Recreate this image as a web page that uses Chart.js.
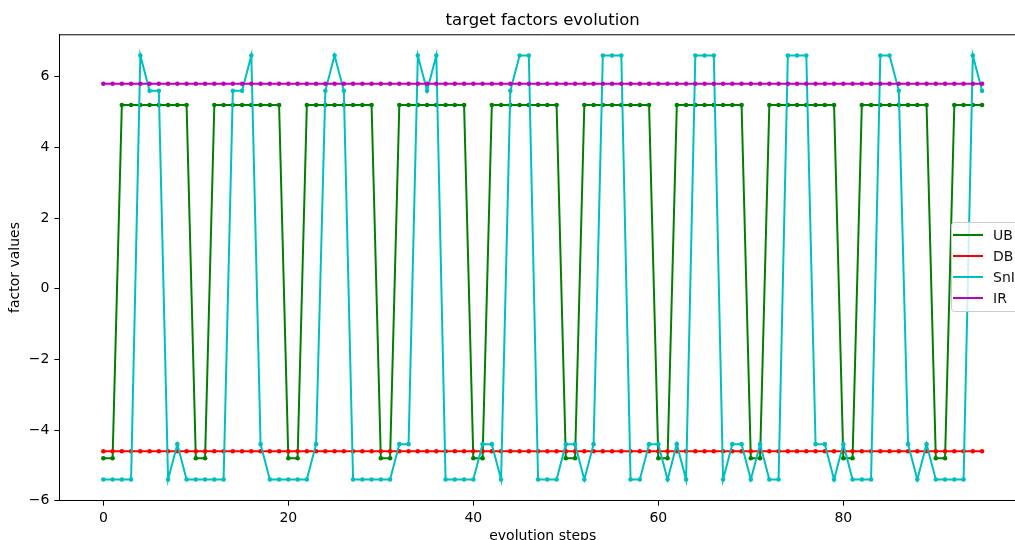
<!DOCTYPE html>
<html>
<head>
<meta charset="utf-8">
<title>target factors evolution</title>
<script src="https://cdn.jsdelivr.net/npm/chart.js@4/dist/chart.umd.min.js"></script>
<style>
    body { margin: 0; background: #fff; }
    #wrap { width: 1015px; height: 540px; overflow: hidden; position: relative; }
    #chart { position: absolute; left: 0; top: 0; }
</style>
</head>
<body>
<div id="wrap"><canvas id="chart" width="1040" height="560"></canvas></div>
<script>
// evolution steps
const steps = [
    0, 1, 2, 3, 4, 5, 6, 7, 8, 9,
    10, 11, 12, 13, 14, 15, 16, 17, 18, 19,
    20, 21, 22, 23, 24, 25, 26, 27, 28, 29,
    30, 31, 32, 33, 34, 35, 36, 37, 38, 39,
    40, 41, 42, 43, 44, 45, 46, 47, 48, 49,
    50, 51, 52, 53, 54, 55, 56, 57, 58, 59,
    60, 61, 62, 63, 64, 65, 66, 67, 68, 69,
    70, 71, 72, 73, 74, 75, 76, 77, 78, 79,
    80, 81, 82, 83, 84, 85, 86, 87, 88, 89,
    90, 91, 92, 93, 94, 95
];

const ubValues = [
    -4.8, -4.8, 5.2, 5.2, 5.2, 5.2, 5.2, 5.2, 5.2, 5.2,
    -4.8, -4.8, 5.2, 5.2, 5.2, 5.2, 5.2, 5.2, 5.2, 5.2,
    -4.8, -4.8, 5.2, 5.2, 5.2, 5.2, 5.2, 5.2, 5.2, 5.2,
    -4.8, -4.8, 5.2, 5.2, 5.2, 5.2, 5.2, 5.2, 5.2, 5.2,
    -4.8, -4.8, 5.2, 5.2, 5.2, 5.2, 5.2, 5.2, 5.2, 5.2,
    -4.8, -4.8, 5.2, 5.2, 5.2, 5.2, 5.2, 5.2, 5.2, 5.2,
    -4.8, -4.8, 5.2, 5.2, 5.2, 5.2, 5.2, 5.2, 5.2, 5.2,
    -4.8, -4.8, 5.2, 5.2, 5.2, 5.2, 5.2, 5.2, 5.2, 5.2,
    -4.8, -4.8, 5.2, 5.2, 5.2, 5.2, 5.2, 5.2, 5.2, 5.2,
    -4.8, -4.8, 5.2, 5.2, 5.2, 5.2
];

const dbValues = [
    -4.6, -4.6, -4.6, -4.6, -4.6, -4.6, -4.6, -4.6, -4.6, -4.6,
    -4.6, -4.6, -4.6, -4.6, -4.6, -4.6, -4.6, -4.6, -4.6, -4.6,
    -4.6, -4.6, -4.6, -4.6, -4.6, -4.6, -4.6, -4.6, -4.6, -4.6,
    -4.6, -4.6, -4.6, -4.6, -4.6, -4.6, -4.6, -4.6, -4.6, -4.6,
    -4.6, -4.6, -4.6, -4.6, -4.6, -4.6, -4.6, -4.6, -4.6, -4.6,
    -4.6, -4.6, -4.6, -4.6, -4.6, -4.6, -4.6, -4.6, -4.6, -4.6,
    -4.6, -4.6, -4.6, -4.6, -4.6, -4.6, -4.6, -4.6, -4.6, -4.6,
    -4.6, -4.6, -4.6, -4.6, -4.6, -4.6, -4.6, -4.6, -4.6, -4.6,
    -4.6, -4.6, -4.6, -4.6, -4.6, -4.6, -4.6, -4.6, -4.6, -4.6,
    -4.6, -4.6, -4.6, -4.6, -4.6, -4.6
];

const sniValues = [
    -5.4, -5.4, -5.4, -5.4, 6.6, 5.6, 5.6, -5.4, -4.4, -5.4,
    -5.4, -5.4, -5.4, -5.4, 5.6, 5.6, 6.6, -4.4, -5.4, -5.4,
    -5.4, -5.4, -5.4, -4.4, 5.6, 6.6, 5.6, -5.4, -5.4, -5.4,
    -5.4, -5.4, -4.4, -4.4, 6.6, 5.6, 6.6, -5.4, -5.4, -5.4,
    -5.4, -4.4, -4.4, -5.4, 5.6, 6.6, 6.6, -5.4, -5.4, -5.4,
    -4.4, -4.4, -5.4, -4.4, 6.6, 6.6, 6.6, -5.4, -5.4, -4.4,
    -4.4, -5.4, -4.4, -5.4, 6.6, 6.6, 6.6, -5.4, -4.4, -4.4,
    -5.4, -4.4, -5.4, -5.4, 6.6, 6.6, 6.6, -4.4, -4.4, -5.4,
    -4.4, -5.4, -5.4, -5.4, 6.6, 6.6, 5.6, -4.4, -5.4, -4.4,
    -5.4, -5.4, -5.4, -5.4, 6.6, 5.6
];

const irValues = [
    5.8, 5.8, 5.8, 5.8, 5.8, 5.8, 5.8, 5.8, 5.8, 5.8,
    5.8, 5.8, 5.8, 5.8, 5.8, 5.8, 5.8, 5.8, 5.8, 5.8,
    5.8, 5.8, 5.8, 5.8, 5.8, 5.8, 5.8, 5.8, 5.8, 5.8,
    5.8, 5.8, 5.8, 5.8, 5.8, 5.8, 5.8, 5.8, 5.8, 5.8,
    5.8, 5.8, 5.8, 5.8, 5.8, 5.8, 5.8, 5.8, 5.8, 5.8,
    5.8, 5.8, 5.8, 5.8, 5.8, 5.8, 5.8, 5.8, 5.8, 5.8,
    5.8, 5.8, 5.8, 5.8, 5.8, 5.8, 5.8, 5.8, 5.8, 5.8,
    5.8, 5.8, 5.8, 5.8, 5.8, 5.8, 5.8, 5.8, 5.8, 5.8,
    5.8, 5.8, 5.8, 5.8, 5.8, 5.8, 5.8, 5.8, 5.8, 5.8,
    5.8, 5.8, 5.8, 5.8, 5.8, 5.8
];

const seriesNames = ['UB', 'DB', 'SnI', 'IR'];
const seriesColors = ['#008000', '#ff0000', '#00bfbf', '#bf00bf'];

const xTicks = [0, 20, 40, 60, 80];
const yTicks = [-6, -4, -2, 0, 2, 4, 6];

const FONT = 'DejaVu Sans';

function toPoints(values) {
    return values.map((v, i) => ({ x: steps[i], y: v }));
}

function makeDataset(idx, values) {
    return {
        label: seriesNames[idx],
        data: toPoints(values),
        borderColor: seriesColors[idx],
        backgroundColor: seriesColors[idx],
        pointBackgroundColor: seriesColors[idx],
        pointBorderWidth: 0,
        pointRadius: 2.3,
        borderWidth: 2,
        tension: 0,
        // matplotlib draws later series on top
        order: 3 - idx
    };
}

// top spine
const frameTop = {
    id: 'frameTop',
    afterDatasetsDraw(chart) {
        const { ctx, chartArea } = chart;
        ctx.save();
        ctx.strokeStyle = '#000';
        ctx.lineWidth = 1;
        ctx.beginPath();
        ctx.moveTo(chartArea.left, chartArea.top + 0.5);
        ctx.lineTo(chartArea.right, chartArea.top + 0.5);
        ctx.stroke();
        ctx.restore();
    }
};

// matplotlib style legend, centre right inside the axes
const boxLegend = {
    id: 'boxLegend',
    afterDraw(chart) {
        const { ctx, chartArea } = chart;
        const datasets = chart.data.datasets;
        const rowH = 21;
        const right = chartArea.right - 7;
        const left = 951;
        const midY = (chartArea.top + chartArea.bottom) / 2 - 1;
        const height = 89;
        const top = midY - height / 2;

        ctx.save();
        ctx.fillStyle = 'rgba(255,255,255,0.8)';
        ctx.strokeStyle = '#cccccc';
        ctx.lineWidth = 1;
        ctx.beginPath();
        ctx.roundRect(left + 0.5, top + 0.5, right - left, height, 3);
        ctx.fill();
        ctx.stroke();

        ctx.font = '14px "' + FONT + '"';
        ctx.textBaseline = 'middle';
        ctx.textAlign = 'left';
        datasets.forEach((ds, i) => {
            const y = midY + (i - 1.5) * rowH;
            ctx.strokeStyle = ds.borderColor;
            ctx.lineWidth = 2;
            ctx.beginPath();
            ctx.moveTo(953, y);
            ctx.lineTo(983, y);
            ctx.stroke();
            ctx.fillStyle = '#111';
            ctx.fillText(ds.label, 993, y + 1);
        });
        ctx.restore();
    }
};

function minusSign(value) {
    return String(value).replace('-', '\u2212');
}

new Chart(document.getElementById('chart'), {
    type: 'line',
    data: {
        datasets: [
            makeDataset(0, ubValues),
            makeDataset(1, dbValues),
            makeDataset(2, sniValues),
            makeDataset(3, irValues)
        ]
    },
    options: {
        responsive: false,
        animation: false,
        devicePixelRatio: 1,
        layout: { padding: { left: 0, right: 14, top: 0, bottom: 0 } },
        plugins: {
            legend: { display: false },
            tooltip: { enabled: false },
            title: {
                display: true,
                text: 'target factors evolution',
                fullSize: false,
                color: '#000',
                font: { family: FONT, size: 16.5, weight: 'normal', lineHeight: 1.2 },
                padding: { top: 10.5, bottom: 4 }
            }
        },
        scales: {
            x: {
                type: 'linear',
                min: -4.75,
                max: 99.75,
                afterFit(scale) { scale.height = 59.3; },
                afterBuildTicks(scale) { scale.ticks = xTicks.map(v => ({ value: v })); },
                grid: {
                    drawOnChartArea: false,
                    drawTicks: true,
                    tickLength: 5,
                    tickColor: '#000'
                },
                border: { display: true, color: '#000', width: 1 },
                ticks: {
                    color: '#000',
                    padding: 4,
                    maxRotation: 0,
                    font: { family: FONT, size: 14 },
                    callback: minusSign
                },
                title: {
                    display: true,
                    text: 'evolution steps',
                    color: '#000',
                    font: { family: FONT, size: 14, lineHeight: 1.2 },
                    padding: { top: 0, bottom: 15 }
                }
            },
            y: {
                type: 'linear',
                min: -6,
                max: 7.2,
                afterFit(scale) { scale.width = 59.4; },
                afterBuildTicks(scale) { scale.ticks = yTicks.map(v => ({ value: v })); },
                grid: {
                    drawOnChartArea: false,
                    drawTicks: true,
                    tickLength: 5,
                    tickColor: '#000'
                },
                border: { display: true, color: '#000', width: 1 },
                ticks: {
                    color: '#000',
                    padding: 5,
                    font: { family: FONT, size: 14 },
                    callback: minusSign
                },
                title: {
                    display: true,
                    text: 'factor values',
                    color: '#000',
                    font: { family: FONT, size: 14, lineHeight: 1.2 },
                    padding: { top: 7, bottom: 0 }
                }
            }
        }
    },
    plugins: [frameTop, boxLegend]
});
</script>
</body>
</html>
